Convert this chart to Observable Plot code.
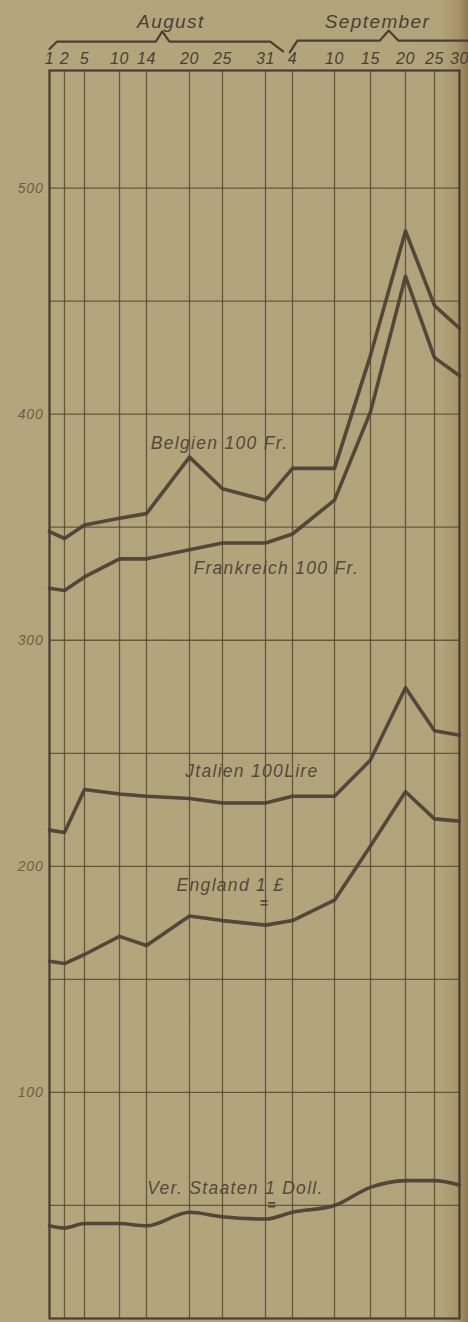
<!DOCTYPE html>
<html><head><meta charset="utf-8">
<script src="https://cdn.jsdelivr.net/npm/d3@7"></script>
<script src="https://cdn.jsdelivr.net/npm/@observablehq/plot@0.6"></script>
<style>
html,body{margin:0;padding:0;}
body{width:468px;height:1322px;overflow:hidden;background:linear-gradient(to right,#b4a67c 0,#b2a47a 440px,#a8946a 458px,#8f7a52 468px);}
#chart svg{display:block;}
</style></head><body><div id="chart"></div>
<script>
// ---- data ----
// day number counted from 1 August (Sep 4 = 35, Sep 30 = 61)
const days       = [1, 2, 5, 10, 14, 20, 25, 31, 35, 41, 46, 51, 56, 61];
const dayLabels  = ["1","2","5","10","14","20","25","31","4","10","15","20","25","30"];
const belgien    = [348, 345, 351, 354, 356, 381, 367, 362, 376, 376, 426, 481, 448, 438];
const frankreich = [323, 322, 328, 336, 336, 340, 343, 343, 347, 362, 401, 461, 425, 417];
const italien    = [216, 215, 234, 232, 231, 230, 228, 228, 231, 231, 247, 279, 260, 258];
const england    = [158, 157, 161, 169, 165, 178, 176, 174, 176, 185, 209, 233, 221, 220];
const verStaaten = [ 41,  40,  42,  42,  41,  47,  45,  44,  47,  50,  58,  61,  61,  59];
const yTickValues = [100, 200, 300, 400, 500];
const months      = ["August", "September"];
const seriesNames  = ["Belgien 100 Fr.", "Frankreich 100 Fr.", "Jtalien 100Lire", "England 1 £", "Ver. Staaten 1 Doll."];
const labelDay     = [14.6, 20.6, 19.4, 18.2, 14.1];
const labelValue   = [387, 332, 242, 191.5, 57.5];

// ---- build tables ----
const seriesValues = [belgien, frankreich, italien, england, verStaaten];
const rows = seriesValues.flatMap((vals, s) => vals.map((v, i) => ({series: seriesNames[s], day: days[i], value: v})));
const labels = seriesNames.map((name, i) => ({name, day: labelDay[i], value: labelValue[i]}));
const underline = [{day: 30.8, value: 183.5}, {day: 31.9, value: 50}];
const labelOf = new Map(days.map((d, i) => [d, dayLabels[i]]));

// brackets above the months (annotation shapes)
const brackets = [
  {m: "August", day: 1.0, value: 561.5},
  {m: "August", day: 1.5, value: 564.8},
  {m: "August", day: 15.3, value: 564.8},
  {m: "August", day: 16.2, value: 569.3},
  {m: "August", day: 17.2, value: 564.8},
  {m: "August", day: 31.7, value: 564.8},
  {m: "August", day: 33.6, value: 560.5},
  {m: "September", day: 34.6, value: 560},
  {m: "September", day: 35.7, value: 565.2},
  {m: "September", day: 47.3, value: 565.2},
  {m: "September", day: 48.6, value: 569.7},
  {m: "September", day: 50, value: 565.2},
  {m: "September", day: 64, value: 565.2}
];
const monthLabels = months.map((m, i) => ({m, day: i === 0 ? 17.4 : 47}));

const ink = "#4a3f33";
const gridInk = "#5c4e3c";
const font = "Liberation Sans, Arial, sans-serif";

const chart = Plot.plot({
  width: 468,
  height: 1322,
  marginTop: 70,
  marginBottom: 4,
  marginLeft: 49,
  marginRight: 9,
  style: {background: "transparent", fontFamily: font, color: ink},
  x: {type: "linear", domain: days, range: [49, 64, 84, 119, 146, 189, 222, 265, 292, 334, 370, 405, 434, 459]},
  y: {domain: [0, 552]},
  marks: [
    Plot.gridX(days, {stroke: gridInk, strokeOpacity: 0.9, strokeWidth: 1.3}),
    Plot.gridY(d3.range(50, 501, 50), {stroke: gridInk, strokeOpacity: 0.9, strokeWidth: 1.3}),
    Plot.frame({stroke: ink, strokeWidth: 2.2}),
    Plot.axisX({anchor: "top", ticks: days, tickFormat: d => labelOf.get(d), tickSize: 0, tickPadding: 7,
      fontSize: 16, fontStyle: "italic", fill: "#4a3f33", label: null}),
    Plot.axisY({anchor: "left", ticks: yTickValues, tickSize: 0, tickPadding: 6,
      fontSize: 14, fontStyle: "italic", fill: "#6b5f4e", label: null}),
    Plot.line(rows.filter(r => r.series !== seriesNames[4]), {x: "day", y: "value", z: "series",
      stroke: ink, strokeWidth: 3.6, strokeOpacity: 0.92, strokeLinejoin: "round"}),
    Plot.line(rows.filter(r => r.series === seriesNames[4]), {x: "day", y: "value",
      stroke: ink, strokeWidth: 3.6, strokeOpacity: 0.92, curve: "monotone-x"}),
    Plot.text(labels, {x: "day", y: "value", text: "name", textAnchor: "start",
      fontSize: 17.5, fontStyle: "italic", fill: "#54493b"}),
    Plot.text(underline, {x: "day", y: "value", text: () => "=", textAnchor: "middle",
      fontSize: 14, fontWeight: "bold", fill: "#54493b"}),
    Plot.line(brackets, {x: "day", y: "value", z: "m", stroke: ink, strokeWidth: 2.2, curve: "linear"}),
    Plot.text(monthLabels, {x: "day", y: 552, text: "m", dy: -49, fontSize: 19, fontStyle: "italic", fill: ink})
  ]
});
document.getElementById("chart").append(chart);

// letter spacing to mimic the hand lettering
const spacing = new Map([
  ...seriesNames.map(n => [n, "1.3px"]),
  ...months.map(m => [m, "1.4px"]),
  ...dayLabels.map(d => [d, "0.6px"]),
  ...yTickValues.map(v => [String(v), "0.8px"])
]);
chart.querySelectorAll("text").forEach(t => {
  const s = spacing.get(t.textContent.trim());
  if (s) t.style.letterSpacing = s;
});
</script>
</body></html>
